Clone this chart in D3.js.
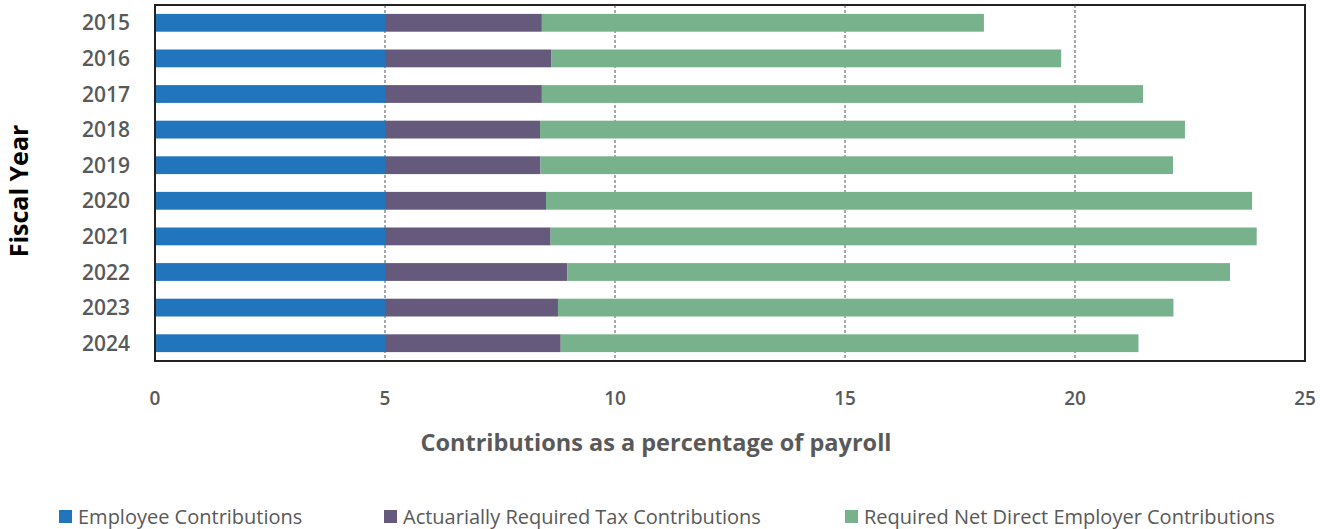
<!DOCTYPE html>
<html><head><meta charset="utf-8">
<script src="https://cdn.jsdelivr.net/npm/d3@7"></script>
<style>body{margin:0;background:#fff}svg{display:block}</style>
</head><body>
<svg id="c" width="1320" height="529"></svg>
<script>
const years = ["2015","2016","2017","2018","2019","2020","2021","2022","2023","2024"];
const employee = [5,5,5,5,5,5,5,5,5,5];
const tax = [3.41,3.62,3.41,3.37,3.38,3.50,3.60,3.96,3.76,3.82];
const employer = [9.61,11.08,13.07,14.02,13.75,15.35,15.35,14.41,13.38,12.56];
const seriesNames = ["Employee Contributions","Actuarially Required Tax Contributions","Required Net Direct Employer Contributions"];
const colors = ["#2175bd","#655a7c","#78b28c"];
const xTicks = [0,5,10,15,20,25];

const svg = d3.select("#c");
const L = 155, R = 1305, T = 5, B = 361;
const x = d3.scaleLinear().domain([0,25]).range([L,R]);
const y = d3.scaleBand().domain(years).range([T,B]).paddingInner(0.5).paddingOuter(0.25);

// gridlines
svg.append("g").selectAll("line").data(xTicks.filter(d=>d>0&&d<25)).join("line")
  .attr("x1",d=>x(d)).attr("x2",d=>x(d)).attr("y1",T).attr("y2",B)
  .attr("stroke","#555").attr("stroke-width",1).attr("stroke-dasharray","3,2");

const table = years.map((yr,i)=>({year:yr, e:employee[i], t:tax[i], r:employer[i]}));
const stack = d3.stack().keys(["e","t","r"])(table);
svg.append("g").selectAll("g").data(stack).join("g")
  .attr("fill",(d,i)=>colors[i])
  .selectAll("rect").data(d=>d).join("rect")
  .attr("x",d=>x(d[0])).attr("width",d=>x(d[1])-x(d[0]))
  .attr("y",d=>y(d.data.year)).attr("height",y.bandwidth());

// frame
svg.append("rect").attr("x",L).attr("y",T).attr("width",R-L).attr("height",B-T)
  .attr("fill","none").attr("stroke","#222").attr("stroke-width",2);

const font = "'Open Sans', 'Segoe UI', sans-serif";
// y labels
svg.append("g").selectAll("text").data(years).join("text")
  .attr("x",130).attr("y",d=>y(d)+y.bandwidth()/2).attr("dy","0.36em")
  .attr("text-anchor","end").attr("font-family",font).attr("font-weight",600)
  .attr("font-size",21).attr("fill","#595959").text(d=>d);
// x labels
svg.append("g").selectAll("text").data(xTicks).join("text")
  .attr("x",d=>x(d)).attr("y",405).attr("text-anchor","middle")
  .attr("font-family",font).attr("font-weight",600).attr("font-size",19)
  .attr("fill","#595959").text(d=>d);
// axis titles
svg.append("text").attr("x",656).attr("y",451).attr("text-anchor","middle")
  .attr("font-family",font).attr("font-weight",700).attr("font-size",23.5)
  .attr("fill","#595959").text("Contributions as a percentage of payroll");
svg.append("text").attr("transform","translate(28,191) rotate(-90)").attr("text-anchor","middle")
  .attr("font-family",font).attr("font-weight",700).attr("font-size",25)
  .attr("fill","#000").text("Fiscal Year");
// legend
const legX = [59,384,845];
const lg = svg.append("g").selectAll("g").data(seriesNames).join("g")
  .attr("transform",(d,i)=>`translate(${legX[i]},510)`);
lg.append("rect").attr("width",13).attr("height",13).attr("y",0).attr("fill",(d,i)=>colors[i]);
lg.append("text").attr("x",19).attr("y",14).attr("font-family",font).attr("font-size",20)
  .attr("fill","#595959").text(d=>d);
</script>
</body></html>
